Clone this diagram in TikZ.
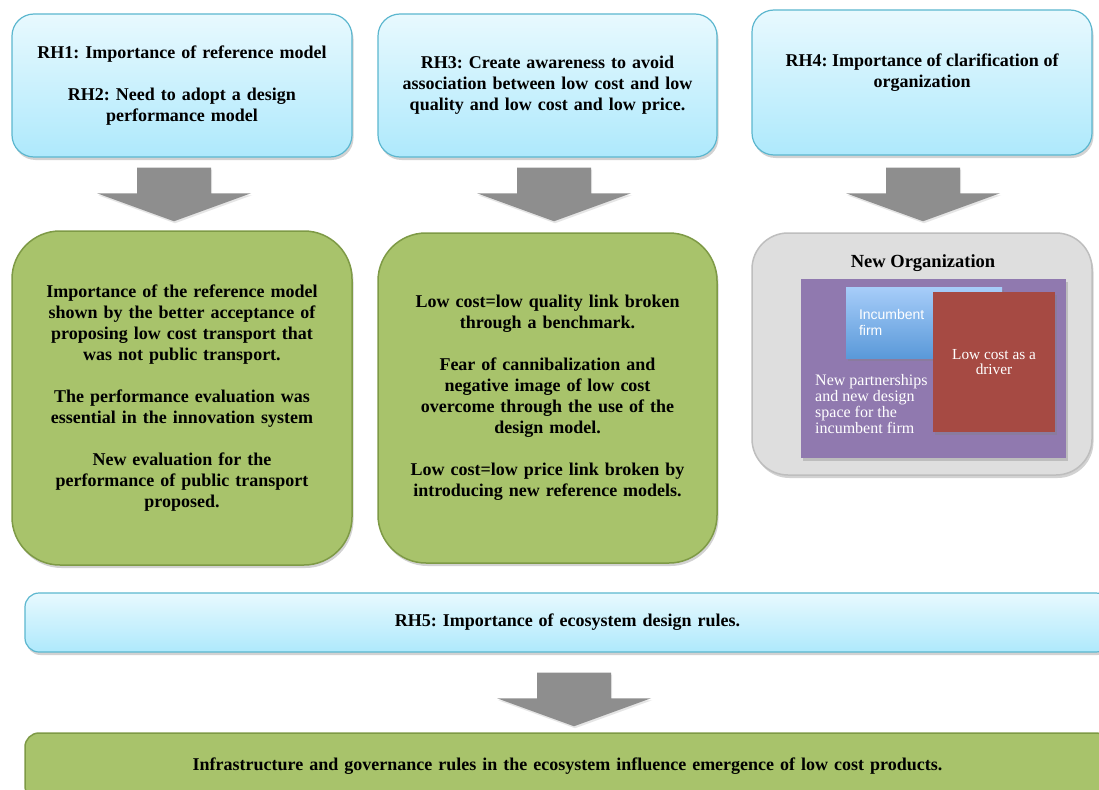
\documentclass[tikz,border=0pt]{standalone}
\usepackage{fontspec}
\setmainfont{Liberation Serif}
\setsansfont{Liberation Sans}
\usetikzlibrary{shadows,calc,positioning}
\frenchspacing

\definecolor{rhtop}{HTML}{E8F9FE}
\definecolor{rhbot}{HTML}{AEE9FC}
\definecolor{rhline}{HTML}{5CB7CF}
\definecolor{resfill}{HTML}{A8C36B}
\definecolor{resline}{HTML}{7E9A46}
\definecolor{arrowgray}{HTML}{8E8E8E}
\definecolor{orgfill}{HTML}{DEDEDE}
\definecolor{orgline}{HTML}{BEBEBE}
\definecolor{purplebox}{HTML}{9079AF}
\definecolor{redbox}{HTML}{A64A43}
\definecolor{firmtop}{HTML}{A7CDF9}
\definecolor{firmbot}{HTML}{5A99D9}

% grosser Blockpfeil: x-Mitte, oberer Knoten, unterer Knoten, Abstand oben, Abstand unten
\newcommand{\bigdownarrow}[5]{%
  \path (#1,0 |- #2.south) ++(0,#4) coordinate (ar top)
        (#1,0 |- #3.north) ++(0,-#5) coordinate (ar tip);
  \fill[bigarrow] ($(ar top)+(-37,0)$) -- ($(ar top)+(37,0)$)
     -- ($(ar tip)+(37,-28)$) -- ($(ar tip)+(77,-28)$) -- (ar tip)
     -- ($(ar tip)+(-77,-28)$) -- ($(ar tip)+(-37,-28)$) -- cycle;}

\begin{document}
\begin{tikzpicture}[x=1pt, y=-1pt,
    font=\bfseries\fontsize{18}{21}\selectfont,
    softshadow/.style={drop shadow={shadow xshift=1.5pt, shadow yshift=-3pt, opacity=.35}},
    rhbox/.style={draw=rhline, line width=1.2pt, rounded corners=22pt, top color=rhtop, bottom color=rhbot,
        align=center, text width=330pt, inner sep=0pt, softshadow},
    resbox/.style={draw=resline, line width=1.5pt, rounded corners=48pt, fill=resfill,
        align=center, text width=330pt, inner sep=0pt, softshadow},
    widebox/.style={rounded corners=14pt, minimum width=1085pt, align=center, inner sep=0pt},
    bigarrow/.style={fill=arrowgray, drop shadow={shadow xshift=1pt, shadow yshift=-2pt, opacity=.2}},
    innertext/.style={text=white, font=\fontsize{15.3}{15}\selectfont}]
  % Bildbereich
  \clip (0,0) rectangle (1099,789);
  \fill[white] (0,0) rectangle (1099,789);

  % obere Reihe: Hypothesen
  \node[rhbox, minimum width=340pt, minimum height=143pt] (rh12) at (182,85.5)
    {RH1: Importance of reference model\\[21pt]
     RH2: Need to adopt a design\\ performance model};
  \node[rhbox, minimum width=339pt, minimum height=143pt] (rh3) at (547.5,85.5)
    {RH3: Create awareness to avoid\\ association between low cost and low\\
     quality and low cost and low price.};
  \node[rhbox, minimum width=340pt, minimum height=145pt] (rh4) at (922,82.5) {};
  \node[align=center] (rh4text) at ([yshift=10pt]rh4.center)
    {RH4: Importance of clarification of\\ organization};

  % mittlere Reihe: Ergebnisse
  \node[resbox, minimum width=340pt, minimum height=334pt] (out12) at (182,398)
    {Importance of the reference model\\ shown by the better acceptance of\\
     proposing low cost transport that\\ was not public transport.\\[21pt]
     The performance evaluation was\\ essential in the innovation system\\[21pt]
     New evaluation for the\\ performance of public transport\\ proposed.};
  \node[resbox, minimum width=339pt, minimum height=330pt] (out3) at (547.5,398)
    {Low cost=low quality link broken\\ through a benchmark.\\[21pt]
     Fear of cannibalization and\\ negative image of low cost\\
     overcome through the use of the\\ design model.\\[21pt]
     Low cost=low price link broken by\\ introducing new reference models.};

  % neue Organisation
  \node[draw=orgline, line width=1.5pt, fill=orgfill, rounded corners=36pt, softshadow,
        minimum width=340pt, minimum height=242pt] (org4) at (922,354) {};
  \node[font=\bfseries\fontsize{18.5}{21}\selectfont] (orgtitle) at (923,263) {New Organization};
  \node[fill=purplebox, minimum width=265pt, minimum height=179pt, softshadow] (partner) at (933.5,368.5) {};
  \node[top color=firmtop, bottom color=firmbot, minimum width=156pt, minimum height=71pt,
        text width=130pt, inner xsep=13pt, align=left, softshadow,
        text=white, font=\sffamily\fontsize{14}{16}\selectfont] (firm) at (924,322.5)
    {Incumbent\\ firm};
  \node[fill=redbox, minimum width=122pt, minimum height=140pt, softshadow,
        align=center, innertext] (driver) at (994,362) {Low cost as a\\ driver};
  \node[innertext, font=\fontsize{16}{16.3}\selectfont, align=left, anchor=west, inner sep=0pt]
    (partnertext) at (815,404)
    {New partnerships\\ and new design\\ space for the\\ incumbent firm};

  % untere Reihe
  \node[rhbox, widebox, minimum height=59pt, text width=1000pt] (rh5) at (567.5,622.5)
    {RH5: Importance of ecosystem design rules.};
  \node[resbox, widebox, minimum height=67pt, text width=1000pt] (out5) at (567.5,766.5)
    {Infrastructure and governance rules in the ecosystem influence emergence of low cost products.};

  % Blockpfeile
  \bigdownarrow{174}{rh12}{out12}{10}{9}
  \bigdownarrow{554}{rh3}{out3}{10}{11}
  \bigdownarrow{923}{rh4}{org4}{12}{11}
  \bigdownarrow{574}{rh5}{out5}{20}{6}
\end{tikzpicture}
\end{document}
